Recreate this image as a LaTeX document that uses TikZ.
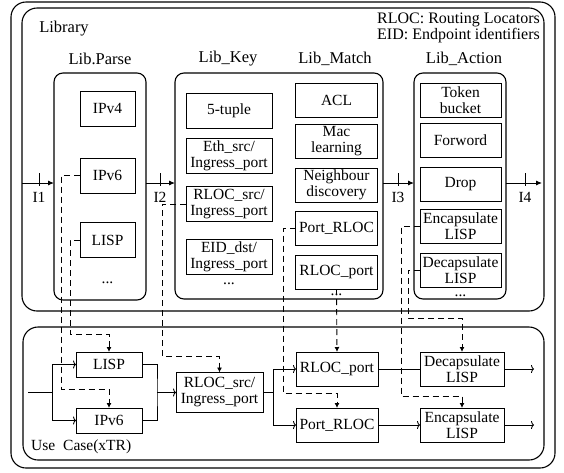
\documentclass[tikz,border=0pt]{standalone}
\usepackage{fontspec}
\setmainfont{Liberation Serif}
\usetikzlibrary{arrows.meta}
\tikzset{
  grp/.style={draw, line width=1.1pt, rounded corners=#1, inner sep=0pt, outer sep=0pt},
  grp/.default=9pt,
  blk/.style={draw, line width=0.9pt, align=center, inner sep=1pt, outer sep=0pt,
    font=\fontsize{15.5}{16}\selectfont},
  pbox/.style={blk, minimum width=55pt, minimum height=35pt},
  kbox/.style={blk, minimum width=86pt, minimum height=35pt},
  mbox/.style={blk, minimum width=82pt, minimum height=34pt},
  abox/.style={blk, minimum width=81pt, minimum height=34pt},
  more/.style={anchor=base, inner sep=0pt, font=\fontsize{15.5}{16}\selectfont},
  title/.style={font=\fontsize{16.5}{17}\selectfont, inner sep=0pt},
  bus/.style={-{Latex[length=6pt,width=5pt]}, line width=0.9pt},
  flow/.style={-{To[length=3pt,width=8pt]}, line width=0.9pt},
  dsh/.style={dash pattern=on 6pt off 4pt, line width=0.9pt, -{Latex[length=5pt,width=5pt]}},
  tick/.style={line width=0.9pt},
}
\begin{document}
\begin{tikzpicture}[x=1pt, y=-1pt]
  \useasboundingbox (0,0) rectangle (564,472);

  \node[grp=15pt, minimum width=544pt, minimum height=466pt] (frame) at (283,235) {};
  \node[grp=15pt, minimum width=522pt, minimum height=303pt] (lib) at (283,159.5) {};
  \node[grp=15pt, minimum width=521pt, minimum height=133pt] (uc) at (283.5,393.5) {};
  \node[grp, minimum width=92pt, minimum height=227pt] (parse) at (100,186.5) {};
  \node[grp, minimum width=208pt, minimum height=226pt] (keymatch) at (279,186) {};
  \node[grp, minimum width=92pt, minimum height=226pt] (action) at (460,186) {};

  \draw
    (64,29) node[title] (libT){Library}
    (100,59) node[title] (parseT){Lib.Parse}
    (228,59) node[title] (keyT){Lib\_Key}
    (335,59) node[title] (matchT){Lib\_Match}
    (464,59) node[title] (actionT){Lib\_Action}
    (540,28) node[anchor=east, align=right, inner sep=0pt,
      font=\fontsize{16}{14.7}\selectfont] (legend){RLOC: Routing Locators\\EID: Endpoint identifiers}
    (31,447) node[anchor=west, inner sep=0pt, font=\fontsize{15.5}{16}\selectfont] (ucT){Use\hspace{4pt} Case(xTR)};

  \draw
    (107.5,108.5) node[pbox] (pIpv4){IPv4}
    (107.5,175.5) node[pbox] (pIpv6){IPv6}
    (107.5,240) node[pbox] (pLisp){LISP}
    (107.5,283) node[more] (pDots){...}
    (229,110.5) node[kbox] (kTuple){5-tuple}
    (229,155.5) node[kbox] (kEth){Eth\_src/\\Ingress\_port}
    (229,204) node[kbox] (kRloc){RLOC\_src/\\Ingress\_port}
    (229,256.5) node[kbox] (kEid){EID\_dst/\\Ingress\_port}
    (229,284) node[more] (kDots){...}
    (336.5,100) node[mbox] (mAcl){ACL}
    (336.5,141.5) node[mbox] (mMac){Mac\\learning}
    (336.5,185) node[mbox] (mNbr){Neighbour\\discovery}
    (336.5,228) node[mbox] (mPrloc){Port\_RLOC}
    (336.5,272) node[mbox] (mRport){RLOC\_port}
    (336.5,295) node[more] (mDots){...}
    (460.5,100) node[abox] (aToken){Token\\bucket}
    (460.5,140.5) node[abox] (aFwd){Forword}
    (460.5,184.5) node[abox] (aDrop){Drop}
    (460.5,226.5) node[abox] (aEncap){Encapsulate\\LISP}
    (460.5,270) node[abox] (aDecap){Decapsulate\\LISP}
    (460.5,296.5) node[more] (aDots){...};

  \draw
    (109,364.5) node[blk, minimum width=66pt, minimum height=25pt] (ucLisp){LISP}
    (109,420.5) node[blk, minimum width=66pt, minimum height=25pt] (ucIpv6){IPv6}
    (219.5,392.5) node[blk, minimum width=87pt, minimum height=40pt] (ucRloc){RLOC\_src/\\Ingress\_port}
    (337,369) node[mbox] (ucRport){RLOC\_port}
    (337,425) node[mbox] (ucPrloc){Port\_RLOC}
    (462,369) node[blk, minimum width=84pt, minimum height=34pt] (ucDecap){Decapsulate\\LISP}
    (462,425) node[blk, minimum width=84pt, minimum height=34pt] (ucEncap){Encapsulate\\LISP};

  \coordinate (busL) at (22,183);
  \coordinate (busR) at (542,183);
  \coordinate (i1) at (39,183);
  \coordinate (i2) at (160,183);
  \coordinate (i3) at (398,183);
  \coordinate (i4) at (525,183);
  \coordinate (in) at (28,392.5);
  \coordinate (fork) at (52,392.5);
  \coordinate (join) at (157,392.5);
  \coordinate (split) at (273,392.5);
  \coordinate (out1) at (534,369);
  \coordinate (out2) at (534,425);

  \begin{scope}[bus]
    \draw (busL) -- (parse.west |- busL);
    \draw (parse.east |- busL) -- (keymatch.west |- busL);
    \draw (keymatch.east |- busL) -- (action.west |- busL);
    \draw (action.east |- busL) -- (busR);
  \end{scope}
  \foreach \t/\n in {i1/I1, i2/I2, i3/I3, i4/I4} {
    \draw[tick] (\t) ++(0,-10) -- ++(0,13);
    \node[font=\fontsize{15.5}{16}\selectfont, inner sep=0pt] (\t lbl) at ([yshift=-14pt]\t) {\n};
  }

  \begin{scope}[line width=0.9pt]
    \draw (in) -- (fork);
    \draw[flow] (fork) |- (ucLisp.west);
    \draw[flow] (fork) |- (ucIpv6.west);
    \draw (ucLisp.east) -| (join) |- (ucIpv6.east);
    \draw[flow] (join) -- (ucRloc.west);
    \draw (ucRloc.east) -- (split);
    \draw[flow] (split) |- (ucRport.west);
    \draw[flow] (split) |- (ucPrloc.west);
    \draw (ucRport.east) -- (ucDecap.west);
    \draw[flow] (ucPrloc.east) -- (ucEncap.west);
    \draw[flow] (ucDecap.east) -- (out1);
    \draw[flow] (ucEncap.east) -- (out2);
  \end{scope}

  \begin{scope}[dsh]
    \draw (pIpv6.west) -| (61,389) -| (ucIpv6.north);
    \draw (pLisp.west) -| (70,334) -| (ucLisp.north);
    \draw (kRloc.west) -| (162,356) -| (ucRloc.north);
    \draw (mPrloc.west) -| (283,393) -| (ucPrloc.north);
    \draw (mRport.south) -- (ucRport.north);
    \draw (aEncap.west) -| (401,396) -| (ucEncap.north);
    \draw (aDecap.west) -| (408,318) -| (ucDecap.north);
  \end{scope}
\end{tikzpicture}
\end{document}
